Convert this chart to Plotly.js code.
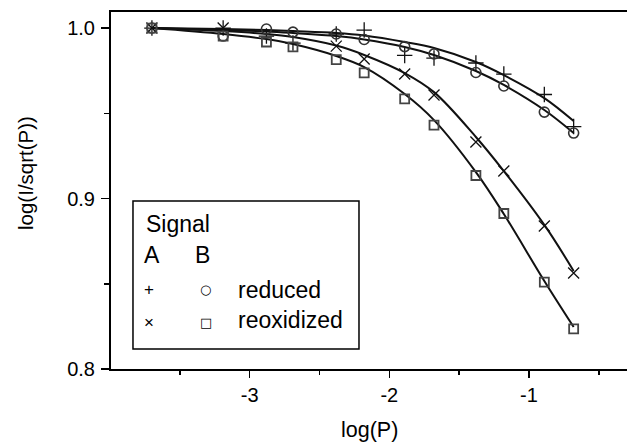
<!DOCTYPE html>
<html>
<head>
<meta charset="utf-8">
<script src="https://cdn.plot.ly/plotly-3.0.1.min.js"></script>
<style>html,body{margin:0;padding:0;background:#fff;}#chart{width:627px;height:444px;}</style>
</head>
<body>
<div id="chart"></div>
<script>
// log(P) values
const logP = [-3.70, -3.19, -2.88, -2.69, -2.38, -2.18, -1.89, -1.68, -1.38, -1.18, -0.89, -0.68];

// measured points
const signalAReduced   = [1.000, 1.000, 0.9953, 0.9912, 0.9965, 0.9988, 0.9839, 0.9824, 0.9795, 0.9730, 0.9610, 0.9422];
const signalBReduced   = [1.000, 0.9953, 0.9994, 0.9976, 0.9965, 0.9933, 0.9891, 0.9848, 0.9739, 0.9660, 0.9507, 0.9384];
const signalAReoxidized = [1.000, 1.000, null, null, 0.9894, 0.9818, 0.9730, 0.9607, 0.9331, 0.9161, 0.8839, 0.8563];
const signalBReoxidized = [1.000, 0.9953, 0.9918, 0.9889, 0.9815, 0.9737, 0.9584, 0.9431, 0.9135, 0.8912, 0.8510, 0.8235];

// fitted curves
const fitAReduced    = [1.000, 0.9994, 0.9988, 0.9982, 0.9971, 0.9956, 0.9918, 0.9883, 0.9801, 0.9724, 0.9589, 0.9454];
const fitBReduced    = [1.000, 0.9988, 0.9980, 0.9971, 0.9953, 0.9933, 0.9889, 0.9842, 0.9748, 0.9666, 0.9519, 0.9384];
const fitAReoxidized = [1.000, 0.9982, 0.9965, 0.9947, 0.9897, 0.9842, 0.9736, 0.9624, 0.9361, 0.9161, 0.8845, 0.8575];
const fitBReoxidized = [1.000, 0.9965, 0.9935, 0.9906, 0.9836, 0.9771, 0.9613, 0.9460, 0.9155, 0.8909, 0.8516, 0.8246];

const xTickVals = [-3, -2, -1];
const xTickText = ['-3', '-2', '-1'];
const yTickVals = [0.8, 0.9, 1.0];
const yTickText = ['0.8', '0.9', '1.0'];

const FONT = 'Liberation Sans, Arial, Helvetica, sans-serif';

function fitTrace(y) {
  return {x: logP, y: y, mode: 'lines', type: 'scatter', hoverinfo: 'skip',
    line: {color: '#111', width: 2, shape: 'spline', smoothing: 1}};
}
function markTrace(y, symbol, size, color, w) {
  return {x: logP, y: y, mode: 'markers', type: 'scatter',
    marker: {symbol: symbol, size: size, color: color, line: {color: color, width: w}}};
}

const data = [
  fitTrace(fitAReduced), fitTrace(fitBReduced), fitTrace(fitAReoxidized), fitTrace(fitBReoxidized),
  markTrace(signalAReduced, 'cross-thin-open', 11, '#111', 1.3),
  markTrace(signalBReduced, 'circle-open', 10, '#333', 1.6),
  markTrace(signalAReoxidized, 'x-thin-open', 11, '#111', 1.3),
  markTrace(signalBReoxidized, 'square-open', 9, '#444', 1.8)
];

function ann(text, x, y, size, xanchor, family) {
  return {text: text, x: x, y: y, xref: 'paper', yref: 'paper', showarrow: false,
    xanchor: xanchor, yanchor: 'middle', font: {family: family || FONT, size: size, color: '#000'}};
}

const layout = {
  width: 627, height: 444,
  margin: {l: 111, r: 0, t: 12, b: 75},
  paper_bgcolor: '#fff', plot_bgcolor: '#fff',
  showlegend: false,
  font: {family: FONT, size: 20, color: '#000'},
  xaxis: {
    range: [-3.993, -0.298], tickmode: 'array', tickvals: xTickVals, ticktext: xTickText,
    ticks: 'outside', ticklen: 7, tickwidth: 1.5, tickcolor: '#000',
    minor: {tickmode: 'array', tickvals: [-3.5, -2.5, -1.5, -0.5], ticks: 'outside', ticklen: 4, tickwidth: 1.5, tickcolor: '#000'},
    showline: true, linecolor: '#000', linewidth: 2, mirror: true,
    showgrid: false, zeroline: false, tickfont: {size: 20, family: FONT}
  },
  yaxis: {
    range: [0.8, 1.0094], tickmode: 'array', tickvals: yTickVals, ticktext: yTickText,
    ticks: 'outside', ticklen: 8, tickwidth: 1.5, tickcolor: '#000',
    minor: {tickmode: 'array', tickvals: [0.85, 0.95], ticks: 'outside', ticklen: 5, tickwidth: 1.5, tickcolor: '#000'},
    showline: true, linecolor: '#000', linewidth: 2,
    showgrid: false, zeroline: false, tickfont: {size: 20, family: FONT}, ticklabelstandoff: 2
  },
  shapes: [
    {type: 'rect', xref: 'paper', yref: 'paper', x0: 0.0426, x1: 0.4806, y0: 0.056, y1: 0.4706,
     line: {color: '#000', width: 1.5}, fillcolor: '#fff', layer: 'above'}
  ],
  annotations: [
    ann('log(P)', 0.5, -0.171, 21.5, 'center'),
    Object.assign(ann('log(I/sqrt(P))', -0.1667, 0.549, 20.5, 'center'), {textangle: -90}),
    ann('Signal', 0.063, 0.406, 23, 'left'),
    ann('A', 0.061, 0.3193, 23, 'left'),
    ann('B', 0.1598, 0.3193, 23, 'left'),
    ann('+', 0.0736, 0.2233, 17, 'center'),
    ann('\u25CB', 0.1841, 0.2213, 13, 'center', 'DejaVu Sans'),
    ann('reduced', 0.2426, 0.2213, 23, 'left'),
    ann('\u00D7', 0.0736, 0.131, 17, 'center'),
    ann('\u25A1', 0.1841, 0.129, 13, 'center', 'DejaVu Sans'),
    ann('reoxidized', 0.2426, 0.1359, 23, 'left')
  ]
};

Plotly.newPlot('chart', data, layout, {staticPlot: true, displayModeBar: false});
</script>
</body>
</html>
